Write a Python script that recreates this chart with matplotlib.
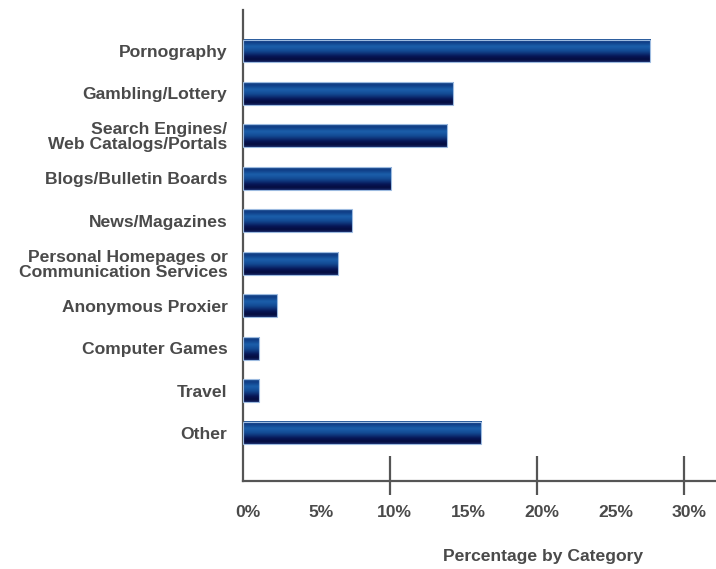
import matplotlib
matplotlib.use("Agg")
import matplotlib.pyplot as plt
import matplotlib.transforms as mtransforms
from matplotlib.colors import LinearSegmentedColormap
import numpy as np

# Share of blocked requests by category (%)
categories = [
    "Pornography",
    "Gambling/Lottery",
    "Search Engines/\nWeb Catalogs/Portals",
    "Blogs/Bulletin Boards",
    "News/Magazines",
    "Personal Homepages or\nCommunication Services",
    "Anonymous Proxier",
    "Computer Games",
    "Travel",
    "Other",
]
percent = [27.7, 14.3, 13.9, 10.1, 7.4, 6.5, 2.3, 1.1, 1.1, 16.2]
tick_values = [0, 5, 10, 15, 20, 25, 30]
tick_marks = [10, 20, 30]

text_color = "#4a4a4a"
axis_color = "#555555"
fsize = 12.6
plt.rcParams["font.family"] = ["Liberation Sans", "DejaVu Sans"]
plt.rcParams["font.weight"] = "bold"

fig = plt.figure(figsize=(7.16, 5.69), dpi=100)
ax = fig.add_axes([242.7 / 716, 1 - 481 / 569, 1 - 242.7 / 716, 471 / 569])

y = np.arange(len(categories))
bars = ax.barh(y, percent, height=0.54, color="none",
               edgecolor="#9dbbe0", linewidth=0.8, zorder=3)

# vertical shading for the tube look of each bar
shade = LinearSegmentedColormap.from_list("tube", [
    (0.00, "#2f62a2"),
    (0.10, "#0e3a82"),
    (0.32, "#1b5fab"),
    (0.52, "#134a93"),
    (0.75, "#071656"),
    (0.90, "#050c3e"),
    (1.00, "#16296a"),
])
grad = np.linspace(0, 1, 64).reshape(-1, 1)
for b in bars:
    x0, y0 = b.get_x(), b.get_y()
    w, h = b.get_width(), b.get_height()
    ax.imshow(grad, cmap=shade, aspect="auto", interpolation="bicubic",
              extent=(x0, x0 + w, y0 + h, y0), zorder=2)

ax.set_xlim(0, (716 - 242.7) / ((684 - 242.7) / 30))
ax.set_ylim(len(categories) - 1 + 1.13, -0.966)

ax.set_yticks(y)
ax.set_yticklabels(categories, color=text_color, fontsize=fsize,
                   fontweight="bold", linespacing=1.0)
ax.tick_params(axis="y", length=0, pad=11)

# labels every 5%, short marks every 10%
ax.set_xticks(tick_values)
ax.set_xticklabels([f"{v}%" for v in tick_values], color=text_color,
                   fontsize=fsize, fontweight="bold")
ax.tick_params(axis="x", length=0, pad=17)
shift = mtransforms.ScaledTranslation(5 / 100, 0, fig.dpi_scale_trans)
for lbl in ax.get_xticklabels():
    lbl.set_transform(lbl.get_transform() + shift)

ax.vlines(tick_marks, -14 / 471, 25 / 471, transform=ax.get_xaxis_transform(),
          color=axis_color, linewidth=1.6, clip_on=False, zorder=4)

for side in ("top", "right"):
    ax.spines[side].set_visible(False)
for side in ("left", "bottom"):
    ax.spines[side].set_color(axis_color)
    ax.spines[side].set_linewidth(1.6)

ax.set_xlabel("Percentage by Category", color=text_color, fontsize=fsize,
              fontweight="bold")
ax.xaxis.set_label_coords((543 - 242.7) / (716 - 242.7), -68 / 471)

fig.savefig("out.png", dpi=100)
